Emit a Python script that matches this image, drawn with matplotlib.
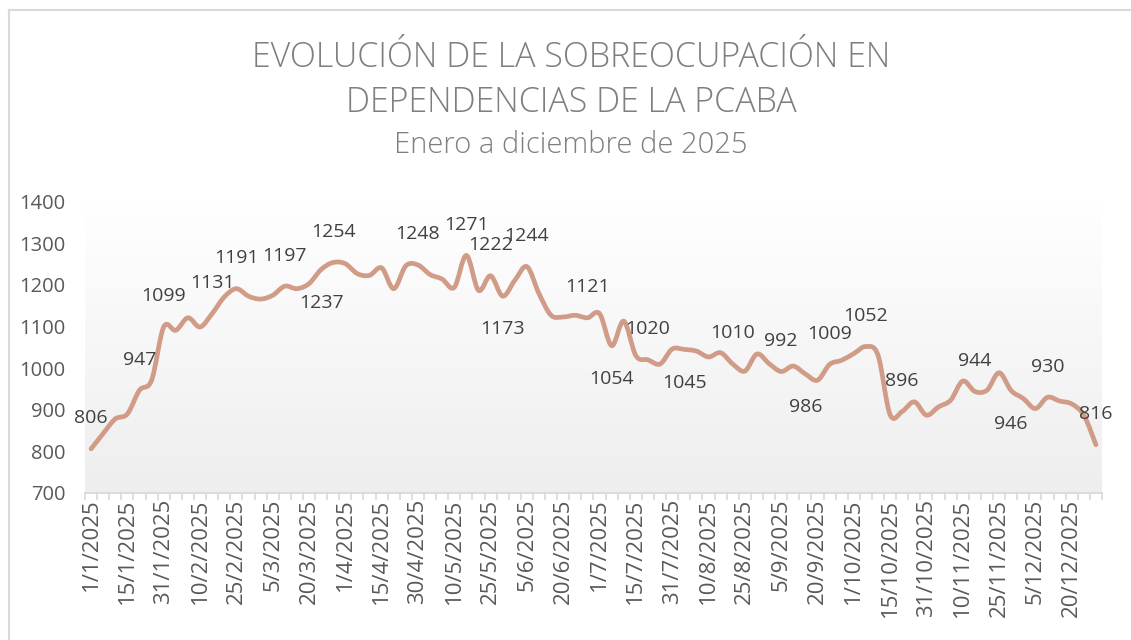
import numpy as np
import matplotlib
matplotlib.use("Agg")
from matplotlib import pyplot as plt
from matplotlib.path import Path
from matplotlib.patches import PathPatch
from matplotlib.lines import Line2D
from matplotlib.colors import LinearSegmentedColormap

plt.rcParams["font.family"] = ["Open Sans", "DejaVu Sans"]

# categorias: dias 1, 5, 10, 15, 20, 25 y fin de cada mes
fin_mes = [31, 28, 31, 30, 31, 30, 31, 31, 30, 31, 30, 31]
fechas = [
    f"{d}/{m}/2025"
    for m, fin in enumerate(fin_mes, 1)
    for d in [1, 5, 10, 15, 20, 25, fin]
]

valores = [
    806, 843, 878, 890, 947, 971, 1099, 1091, 1121, 1099, 1131, 1171,
    1191, 1173, 1166, 1175, 1197, 1191, 1203, 1237, 1254, 1251, 1227, 1223,
    1241, 1191, 1246, 1248, 1225, 1214, 1194, 1271, 1187, 1222, 1173, 1211,
    1244, 1179, 1127, 1123, 1127, 1121, 1131, 1054, 1113, 1030, 1020, 1010,
    1046, 1045, 1041, 1027, 1037, 1010, 993, 1034, 1011, 992, 1005, 986,
    971, 1009, 1019, 1035, 1052, 1031, 888, 896, 919, 887, 907, 923,
    969, 944, 947, 989, 946, 927, 903, 930, 921, 914, 887, 816,
]

# puntos con etiqueta de dato
etiq_arriba = [0, 4, 6, 10, 12, 16, 20, 27, 31, 33, 36, 41, 46, 53, 57,
               61, 64, 67, 73, 79, 83]
etiq_abajo = [19, 34, 43, 49, 59, 76]

color_linea = "#D09C87"
gris_texto = "#595959"
gris_titulo = "#7F7F7F"
gris_eje = "#D9D9D9"

W, H = 1131, 640
fig = plt.figure(figsize=(W / 100, H / 100), dpi=100)
ax = fig.add_axes([85 / W, 1 - 493 / H, (1102 - 85) / W, (493 - 201.7) / H])

n = len(valores)
x = np.arange(n)
y = np.array(valores, dtype=float)

ax.set_xlim(-0.5, n - 0.5)
ax.set_ylim(700, 1400)

# fondo degradado del area de trazado
cmap = LinearSegmentedColormap.from_list("fondo", ["#EEEEEE", "#FFFFFF"])
ax.imshow(np.linspace(1, 0, 256).reshape(-1, 1), cmap=cmap, aspect="auto",
          extent=[-0.5, n - 0.5, 700, 1400], zorder=0, vmin=0, vmax=1)

# linea suavizada (curvas de Bezier entre los puntos)
verts = [(x[0], y[0])]
codes = [Path.MOVETO]
for i in range(n - 1):
    a = max(i - 1, 0)
    b = min(i + 2, n - 1)
    c1 = (x[i] + (x[i + 1] - x[a]) / 6, y[i] + (y[i + 1] - y[a]) / 6)
    c2 = (x[i + 1] - (x[b] - x[i]) / 6, y[i + 1] - (y[b] - y[i]) / 6)
    verts += [c1, c2, (x[i + 1], y[i + 1])]
    codes += [Path.CURVE4] * 3
ax.add_patch(PathPatch(Path(verts, codes), facecolor="none",
                       edgecolor=color_linea, lw=3.4, capstyle="round",
                       joinstyle="round", zorder=3))

# etiquetas de datos
for i in etiq_arriba:
    ax.annotate(str(valores[i]), (x[i], y[i]), xytext=(0, 22),
                textcoords="offset points", ha="center", va="center",
                fontsize=14, color="#404040", annotation_clip=False, zorder=4)
for i in etiq_abajo:
    ax.annotate(str(valores[i]), (x[i], y[i]), xytext=(0, -24),
                textcoords="offset points", ha="center", va="center",
                fontsize=14, color="#404040", annotation_clip=False, zorder=4)

# ejes
for s in ["top", "right", "left"]:
    ax.spines[s].set_visible(False)
ax.spines["bottom"].set_color(gris_eje)
ax.spines["bottom"].set_linewidth(1.3)

ax.set_xticks(x[::3])
ax.set_xticklabels(fechas[::3], rotation=90, fontsize=16, color=gris_texto)
ax.set_xticks(np.arange(-0.5, n, 1), minor=True)
ax.tick_params(axis="x", which="major", length=0, pad=4)
ax.tick_params(axis="x", which="minor", length=5, color=gris_eje, width=1.2)

ax.set_yticks(range(700, 1401, 100))
ax.tick_params(axis="y", length=0, pad=14, labelsize=14.5, labelcolor=gris_texto)

# titulos
fig.text(571 / W, 1 - 58 / H, "EVOLUCIÓN DE LA SOBREOCUPACIÓN EN",
         ha="center", va="center", fontsize=24.5, color=gris_titulo,
         fontweight="light")
fig.text(571 / W, 1 - 103 / H, "DEPENDENCIAS DE LA PCABA",
         ha="center", va="center", fontsize=24.5, color=gris_titulo,
         fontweight="light")
fig.text(571 / W, 1 - 145 / H, "Enero a diciembre de 2025",
         ha="center", va="center", fontsize=21, color=gris_titulo,
         fontweight="light")

# borde del grafico
fig.add_artist(Line2D([8.5 / W, 8.5 / W], [0, 1 - 10 / H],
                      transform=fig.transFigure, color=gris_eje, lw=1.5))
fig.add_artist(Line2D([8.5 / W, 1], [1 - 10 / H, 1 - 10 / H],
                      transform=fig.transFigure, color=gris_eje, lw=1.5))

plt.savefig("out.png", dpi=100)
